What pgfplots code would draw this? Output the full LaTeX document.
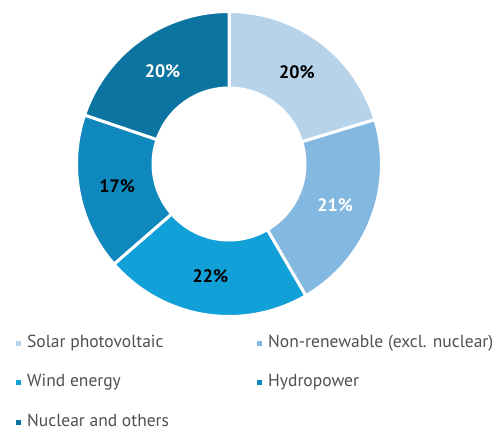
\documentclass[border=0pt]{standalone}
\usepackage{pgfplots}
\pgfplotsset{compat=1.18}
\usepackage{pgfplotstable}
\usepackage{fontspec}
\setmainfont{PT Sans}
\definecolor{seg0}{HTML}{B6D3EA}
\definecolor{seg1}{HTML}{83B9E0}
\definecolor{seg2}{HTML}{11A0D7}
\definecolor{seg3}{HTML}{0E88BD}
\definecolor{seg4}{HTML}{0B74A1}
\definecolor{legtext}{HTML}{505050}

\pgfplotstableread[col sep=comma]{
name,value,label,txt
Solar photovoltaic,20.3,20,black
Non-renewable (excl. nuclear),21.3,21,white
Wind energy,22.0,22,black
Hydropower,16.6,17,black
Nuclear and others,19.8,20,white
}\datatable

\begin{document}
\begin{tikzpicture}
\begin{axis}[
  width=494pt, height=430pt, scale only axis,
  xmin=-229, xmax=265, ymin=-266, ymax=164,
  axis lines=none, clip=false,
  legend columns=2,
  legend cell align=left,
  legend style={at={(axis cs:-216,-169)}, anchor=north west, draw=none, fill=none,
    font=\fontsize{17.5}{20}\selectfont, text=legtext, row sep=23.5pt,
    nodes={inner sep=0pt, inner xsep=6pt, text height=12pt, text depth=4pt}},
  legend image code/.code={\fill[#1,draw=none] (0pt,-2.5pt) rectangle (5pt,2.5pt);},
]
\coordinate (SW) at (axis cs:-229,-266);
\coordinate (NE) at (axis cs:265,164);
\pgfmathsetmacro\cum{0}
\pgfplotsinvokeforeach{0,...,4}{%
  \pgfplotstablegetelem{#1}{value}\of\datatable \let\val\pgfplotsretval
  \pgfplotstablegetelem{#1}{name}\of\datatable \let\nm\pgfplotsretval
  \pgfmathsetmacro\aS{90-3.6*\cum}
  \pgfmathsetmacro\cum{\cum+\val}
  \pgfmathsetmacro\aE{90-3.6*\cum}
  \edef\doit{%
    \noexpand\addplot[fill=seg#1, draw=white, line width=3pt, domain=\aE:\aS, samples=90, variable=\noexpand\t]
      ({152.5*cos(\noexpand\t)},{152.5*sin(\noexpand\t)}) -- (axis cs:0,0) -- cycle;
    \noexpand\addlegendentry{\ifodd#1 \else\noexpand\makebox[224pt][l]\fi{\nm}}%
  }\doit
}
\addplot[fill=white, draw=none, domain=0:360, samples=150, forget plot] ({77.5*cos(x)},{77.5*sin(x)}) -- cycle;
\pgfmathsetmacro\cum{0}
\pgfplotsinvokeforeach{0,...,4}{%
  \pgfplotstablegetelem{#1}{value}\of\datatable \let\val\pgfplotsretval
  \pgfplotstablegetelem{#1}{label}\of\datatable \let\lab\pgfplotsretval
  \pgfplotstablegetelem{#1}{txt}\of\datatable \let\tc\pgfplotsretval
  \pgfmathsetmacro\aS{90-3.6*\cum}
  \pgfmathsetmacro\cum{\cum+\val}
  \pgfmathsetmacro\aE{90-3.6*\cum}
  \pgfmathsetmacro\xm{114*cos((\aS+\aE)/2)}
  \pgfmathsetmacro\ym{114*sin((\aS+\aE)/2)}
  \edef\donode{%
    \noexpand\node[text=\tc, font=\noexpand\fontsize{18}{20}\noexpand\bfseries\noexpand\selectfont] at (axis cs:\xm,\ym) {\lab\noexpand\%};%
  }\donode
}
\end{axis}
\pgfresetboundingbox
\useasboundingbox (SW) rectangle (NE);
\end{tikzpicture}
\end{document}
